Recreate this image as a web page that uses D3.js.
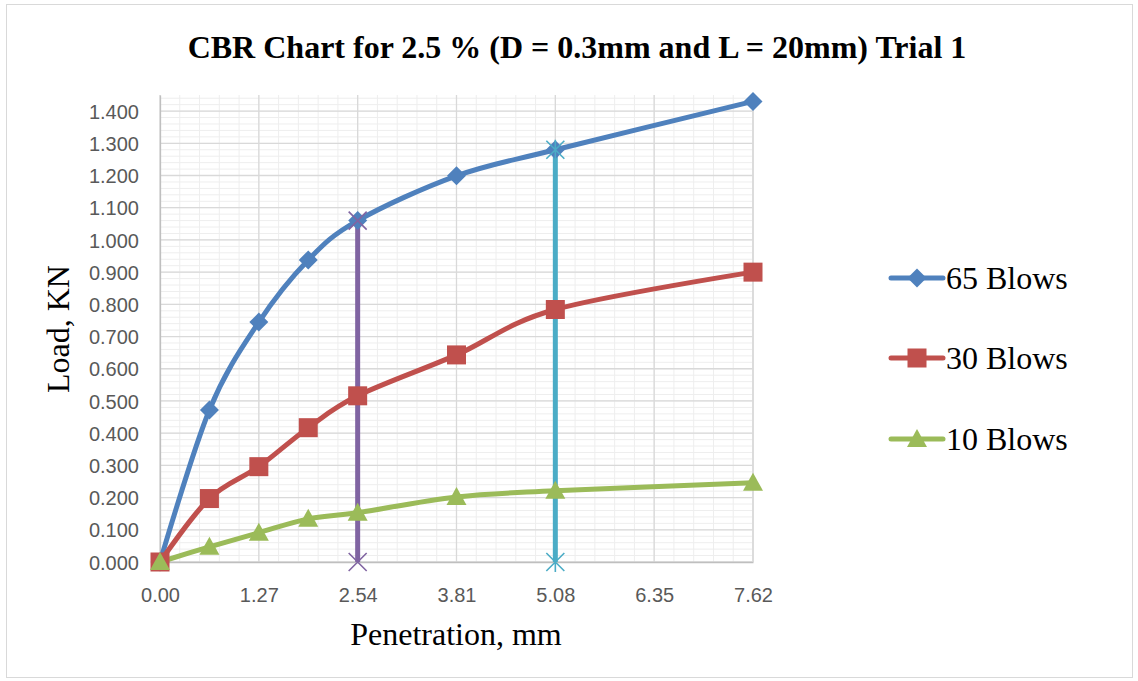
<!DOCTYPE html>
<html>
<head>
<meta charset="utf-8">
<script src="https://cdn.jsdelivr.net/npm/d3@7"></script>
<style>
  html, body { margin: 0; padding: 0; background: #fff; }
  svg { display: block; }
</style>
</head>
<body>
<svg id="chart" width="1138" height="681"></svg>
<script>
// Penetration readings (mm)
const penetration = [0, 0.635, 1.27, 1.905, 2.54, 3.81, 5.08, 7.62];
// Load readings (KN) for each compaction effort
const load65 = [0, 0.472, 0.745, 0.938, 1.060, 1.199, 1.280, 1.430];
const load30 = [0, 0.197, 0.296, 0.417, 0.516, 0.643, 0.784, 0.900];
const load10 = [0, 0.047, 0.091, 0.134, 0.153, 0.202, 0.221, 0.246];
// Reference lines at the standard penetrations
const refX = [2.54, 5.08];
const refTop = [1.060, 1.280];
const xTicks = [0, 1.27, 2.54, 3.81, 5.08, 6.35, 7.62];
const yTicks = [0, 0.1, 0.2, 0.3, 0.4, 0.5, 0.6, 0.7, 0.8, 0.9, 1.0, 1.1, 1.2, 1.3, 1.4];
const seriesNames = ["65 Blows", "30 Blows", "10 Blows"];

const serif = "'Liberation Serif', 'Times New Roman', serif";
const sans = "'Liberation Sans', Arial, sans-serif";

const svg = d3.select("#chart");

// chart frame
svg.append("rect").attr("x", 6.5).attr("y", 4.5).attr("width", 1126).attr("height", 673)
  .attr("fill", "#fff").attr("stroke", "#d9d9d9").attr("stroke-width", 1);

const x = d3.scaleLinear().domain([0, 7.62]).range([160, 753]);
const y = d3.scaleLinear().domain([0, 1.45]).range([562, 95]);

const grid = svg.append("g");
// minor gridlines
const xMinor = d3.range(0, 30 + 1).map(i => i * 0.254);
const yMinor = d3.range(0, 72 + 1).map(i => i * 0.02);
grid.selectAll(".vmin").data(xMinor).join("line")
  .attr("x1", d => x(d)).attr("x2", d => x(d)).attr("y1", y(1.45)).attr("y2", y(0))
  .attr("stroke", "#eeeeee").attr("stroke-width", 1);
grid.selectAll(".hmin").data(yMinor).join("line")
  .attr("x1", x(0)).attr("x2", x(7.62)).attr("y1", d => y(d)).attr("y2", d => y(d))
  .attr("stroke", "#eeeeee").attr("stroke-width", 1);
// major gridlines
grid.selectAll(".vmaj").data(xTicks).join("line")
  .attr("x1", d => x(d)).attr("x2", d => x(d)).attr("y1", y(1.45)).attr("y2", y(0))
  .attr("stroke", "#d9d9d9").attr("stroke-width", 1.3);
grid.selectAll(".hmaj").data(yTicks).join("line")
  .attr("x1", x(0)).attr("x2", x(7.62)).attr("y1", d => y(d)).attr("y2", d => y(d))
  .attr("stroke", "#d9d9d9").attr("stroke-width", 1.3);

// axes
const xAxis = svg.append("g").attr("transform", `translate(0,${y(0)})`)
  .call(d3.axisBottom(x).tickValues(xTicks).tickFormat(d3.format(".2f")).tickSize(0).tickPadding(26));
const yAxis = svg.append("g").attr("transform", `translate(${x(0)},0)`)
  .call(d3.axisLeft(y).tickValues(yTicks).tickFormat(d3.format(".3f")).tickSize(0).tickPadding(21));
[xAxis, yAxis].forEach(g => {
  g.select(".domain").attr("stroke", "#bfbfbf").attr("stroke-width", 1.3);
  g.selectAll("text").attr("fill", "#595959").style("font-family", sans).style("font-size", "20px");
});
yAxis.selectAll("text").attr("dy", "0.36em");
// right plot edge
svg.append("line").attr("x1", x(7.62)).attr("x2", x(7.62)).attr("y1", y(1.45)).attr("y2", y(0))
  .attr("stroke", "#d9d9d9").attr("stroke-width", 1.3);

const colors = ["#4F81BD", "#C0504D", "#9BBB59"];
const datasets = [load65, load30, load10];

const line = d3.line().x(d => x(d[0])).y(d => y(d[1])).curve(d3.curveCatmullRom.alpha(0));

// reference verticals
const refColors = ["#8064A2", "#4BACC6"];
refX.forEach((rx, i) => {
  svg.append("line").attr("x1", x(rx)).attr("x2", x(rx)).attr("y1", y(0)).attr("y2", y(refTop[i]))
    .attr("stroke", refColors[i]).attr("stroke-width", 5);
});

// series lines
datasets.forEach((vals, i) => {
  const pts = penetration.map((p, j) => [p, vals[j]]);
  svg.append("path").datum(pts).attr("d", line).attr("fill", "none")
    .attr("stroke", colors[i]).attr("stroke-width", 5).attr("stroke-linejoin", "round").attr("stroke-linecap", "round");
});

// marker shapes
function marker(g, kind, cx, cy, color) {
  if (kind === 0) {
    const s = 9.5;
    g.append("path").attr("d", `M${cx},${cy - s}L${cx + s},${cy}L${cx},${cy + s}L${cx - s},${cy}Z`).attr("fill", color);
  } else if (kind === 1) {
    const s = 9.5;
    g.append("rect").attr("x", cx - s).attr("y", cy - s).attr("width", 2 * s).attr("height", 2 * s).attr("fill", color);
  } else {
    const s = 10;
    g.append("path").attr("d", `M${cx},${cy - s}L${cx + s},${cy + s * 0.8}L${cx - s},${cy + s * 0.8}Z`).attr("fill", color);
  }
}
function cross(g, cx, cy, color, star) {
  const s = 9;
  g.append("path").attr("d", `M${cx - s},${cy - s}L${cx + s},${cy + s}M${cx - s},${cy + s}L${cx + s},${cy - s}` + (star ? `M${cx},${cy - s - 1}L${cx},${cy + s + 1}` : ""))
    .attr("stroke", color).attr("stroke-width", 1.6).attr("fill", "none");
}

datasets.forEach((vals, i) => {
  const g = svg.append("g");
  penetration.forEach((p, j) => marker(g, i, x(p), y(vals[j]), colors[i]));
});

// reference line end markers
refX.forEach((rx, i) => {
  const g = svg.append("g");
  cross(g, x(rx), y(0), refColors[i], i === 1);
  cross(g, x(rx), y(refTop[i]), refColors[i], i === 1);
});

// legend
const legendY = [278, 358, 439];
seriesNames.forEach((name, i) => {
  const g = svg.append("g");
  g.append("line").attr("x1", 891).attr("x2", 943).attr("y1", legendY[i]).attr("y2", legendY[i])
    .attr("stroke", colors[i]).attr("stroke-width", 5).attr("stroke-linecap", "round");
  marker(g, i, 917, legendY[i], colors[i]);
  g.append("text").attr("x", 946).attr("y", legendY[i]).attr("dy", "0.35em")
    .style("font-family", serif).style("font-size", "32px")
    .attr("fill", "#000").text(name);
});

// titles
svg.append("text").attr("x", 577).attr("y", 58).attr("text-anchor", "middle")
  .style("font-family", serif).style("font-size", "32px").style("font-weight", "bold")
  .text("CBR Chart for 2.5 % (D = 0.3mm and L = 20mm) Trial 1");
svg.append("text").attr("x", 456).attr("y", 645).attr("text-anchor", "middle")
  .style("font-family", serif).style("font-size", "32px")
  .text("Penetration, mm");
svg.append("text").attr("transform", "translate(69,329) rotate(-90)").attr("text-anchor", "middle")
  .style("font-family", serif).style("font-size", "32px")
  .text("Load, KN");
</script>
</body>
</html>
